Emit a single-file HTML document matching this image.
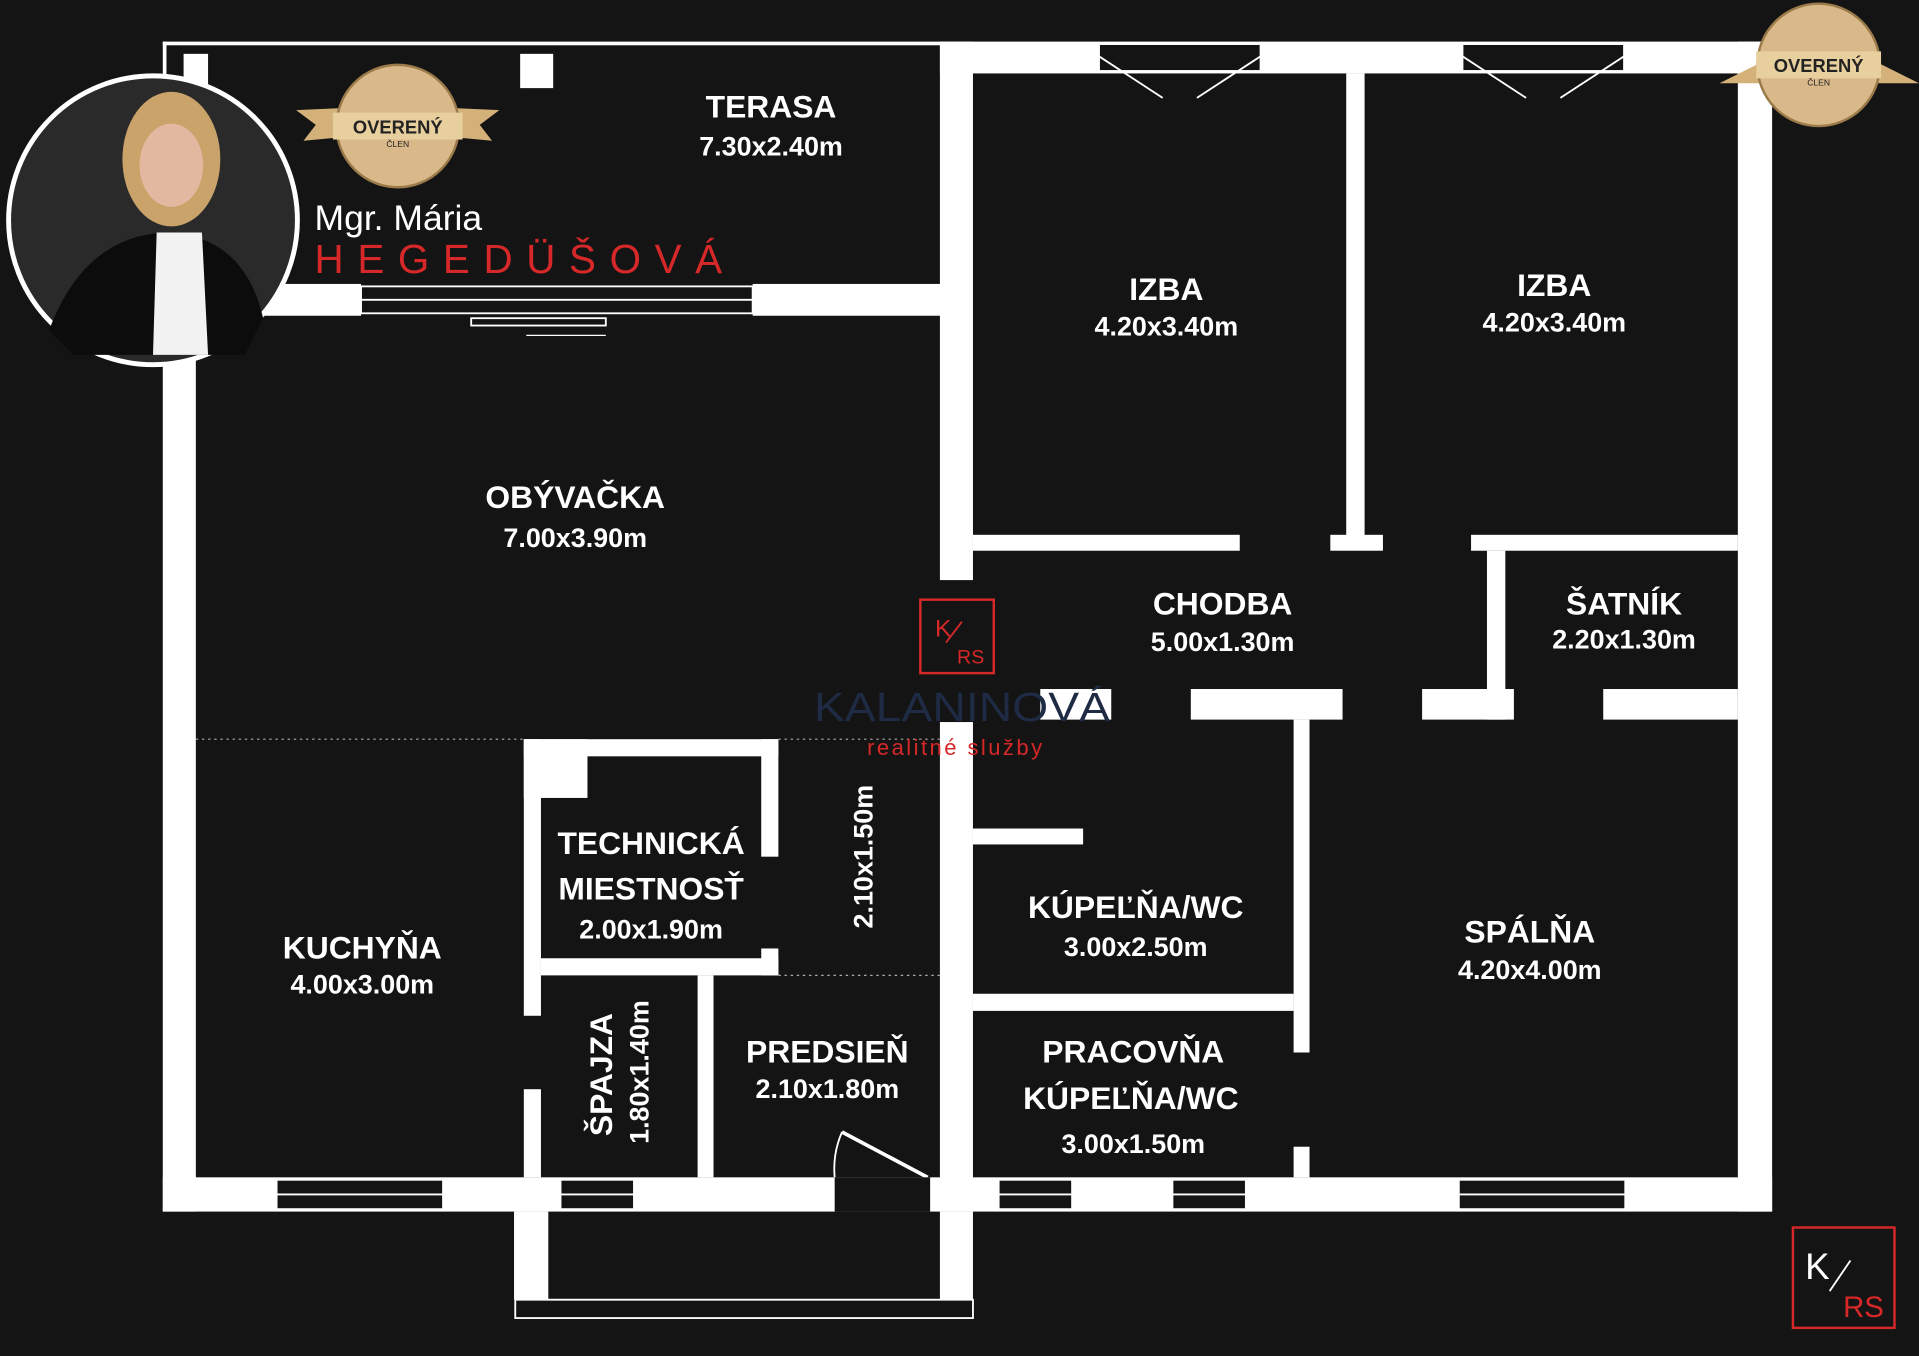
<!DOCTYPE html>
<html><head><meta charset="utf-8"><style>
html,body{margin:0;padding:0;background:#141414;overflow:hidden}
svg{display:block}
.t{font-family:"Liberation Sans Narrow","Liberation Sans",sans-serif;font-weight:bold;fill:#fff;text-anchor:middle}
</style></head><body>
<svg width="1919" height="1356" viewBox="0 0 1568 1108" xmlns="http://www.w3.org/2000/svg">
<rect width="1568" height="1108" fill="#141414"/>
<g fill="#fff">
<rect x="133" y="34" width="637" height="3"/>
<rect x="133" y="34" width="3" height="200"/>
<rect x="150" y="44" width="20" height="26"/>
<rect x="425" y="44" width="27" height="28"/>
<rect x="768" y="34" width="680" height="26"/>
<rect x="133" y="232" width="27" height="758"/>
<rect x="133" y="232" width="162" height="26"/>
<rect x="615" y="232" width="155" height="26"/>
<rect x="768" y="34" width="27" height="440"/>
<rect x="768" y="590" width="27" height="400"/>
<rect x="1420" y="34" width="28" height="956"/>
<rect x="133" y="962" width="1315" height="28"/>
<rect x="1100" y="60" width="15" height="380"/>
<rect x="795" y="437" width="218" height="13"/>
<rect x="1087" y="437" width="43" height="13"/>
<rect x="1202" y="437" width="218" height="13"/>
<rect x="1215" y="450" width="15" height="138"/>
<rect x="973" y="563" width="124" height="25"/>
<rect x="1162" y="563" width="75" height="25"/>
<rect x="1310" y="563" width="110" height="25"/>
<rect x="1057" y="588" width="13" height="272"/>
<rect x="1057" y="937" width="13" height="25"/>
<rect x="795" y="677" width="90" height="13"/>
<rect x="795" y="812" width="262" height="14"/>
<rect x="428" y="604" width="14" height="226"/>
<rect x="428" y="890" width="14" height="72"/>
<rect x="428" y="604" width="208" height="14"/>
<rect x="428" y="604" width="52" height="48"/>
<rect x="622" y="604" width="14" height="96"/>
<rect x="622" y="775" width="14" height="22"/>
<rect x="442" y="783" width="194" height="14"/>
<rect x="570" y="797" width="13" height="165"/>
<rect x="420" y="990" width="28" height="72"/>
<rect x="768" y="990" width="27" height="72"/>
</g>
<rect x="421" y="1062" width="374" height="15" fill="none" stroke="#fff" stroke-width="1.5"/>
<g stroke="#aaa" stroke-width="1" stroke-dasharray="2,3">
<line x1="160" y1="604" x2="428" y2="604"/><line x1="636" y1="604" x2="768" y2="604"/><line x1="636" y1="797" x2="768" y2="797"/>
</g>
<g fill="#141414" stroke="#fff" stroke-width="1.5">
<rect x="295" y="234" width="320" height="22"/>
<rect x="226" y="964" width="136" height="24"/>
<rect x="458" y="964" width="60" height="24"/>
<rect x="816" y="964" width="60" height="24"/>
<rect x="958" y="964" width="60" height="24"/>
<rect x="1192" y="964" width="136" height="24"/>
<rect x="898" y="36" width="132" height="22"/>
<rect x="1195" y="36" width="132" height="22"/>
<rect x="385" y="260" width="110" height="6"/>
</g>
<g stroke="#fff" stroke-width="1.5" fill="none">
<line x1="295" y1="245" x2="615" y2="245"/>
<line x1="226" y1="976" x2="362" y2="976"/><line x1="1192" y1="976" x2="1328" y2="976"/>
<line x1="458" y1="976" x2="518" y2="976"/><line x1="816" y1="976" x2="876" y2="976"/><line x1="958" y1="976" x2="1018" y2="976"/>
<path d="M898 46 L950 80 M1030 46 L978 80 M1195 46 L1247 80 M1327 46 L1275 80"/>
<line x1="430" y1="274" x2="495" y2="274" stroke-width="1"/>
<line x1="688" y1="925" x2="758" y2="962" stroke-width="3"/>
<path d="M688 925 A75 75 0 0 0 682 962" />
</g>
<rect x="682" y="962" width="78" height="28" fill="#141414"/>
<g class="t">
<text x="630" y="96" font-size="26">TERASA</text><text x="630" y="127" font-size="22">7.30x2.40m</text>
<text x="953" y="245" font-size="26">IZBA</text><text x="953" y="274" font-size="22">4.20x3.40m</text>
<text x="1270" y="242" font-size="26">IZBA</text><text x="1270" y="271" font-size="22">4.20x3.40m</text>
<text x="470" y="415" font-size="26">OBÝVAČKA</text><text x="470" y="447" font-size="22">7.00x3.90m</text>
<text x="999" y="502" font-size="26">CHODBA</text><text x="999" y="532" font-size="22">5.00x1.30m</text>
<text x="1327" y="502" font-size="26">ŠATNÍK</text><text x="1327" y="530" font-size="22">2.20x1.30m</text>
<text x="532" y="698" font-size="26">TECHNICKÁ</text><text x="532" y="735" font-size="26">MIESTNOSŤ</text><text x="532" y="767" font-size="22">2.00x1.90m</text>
<text x="928" y="750" font-size="26">KÚPEĽŇA/WC</text><text x="928" y="781" font-size="22">3.00x2.50m</text>
<text x="1250" y="770" font-size="26">SPÁLŇA</text><text x="1250" y="800" font-size="22">4.20x4.00m</text>
<text x="296" y="783" font-size="26">KUCHYŇA</text><text x="296" y="812" font-size="22">4.00x3.00m</text>
<text x="676" y="868" font-size="26">PREDSIEŇ</text><text x="676" y="897" font-size="22">2.10x1.80m</text>
<text x="926" y="868" font-size="26">PRACOVŇA</text><text x="924" y="906" font-size="26">KÚPEĽŇA/WC</text><text x="926" y="942" font-size="22">3.00x1.50m</text>
<text transform="translate(713,700) rotate(-90)" font-size="22">2.10x1.50m</text>
<text transform="translate(500,878) rotate(-90)" font-size="26">ŠPAJZA</text>
<text transform="translate(530,876) rotate(-90)" font-size="22">1.80x1.40m</text>
</g>
<rect x="752" y="490" width="60" height="60" fill="none" stroke="#d62828" stroke-width="2"/>
<text x="764" y="520" font-family="Liberation Sans" font-size="20" fill="#d62828">K</text>
<line x1="773" y1="525" x2="786" y2="508" stroke="#d62828" stroke-width="1.5"/>
<text x="782" y="542" font-family="Liberation Sans" font-size="16" fill="#d62828">RS</text>
<rect x="850" y="563" width="58" height="25" fill="#fff"/>
<text x="786" y="589" font-family="Liberation Sans" font-size="33" fill="#1f2a44" text-anchor="middle" textLength="242" lengthAdjust="spacingAndGlyphs">KALANINOVÁ</text>
<text x="781" y="617" font-family="Liberation Sans" font-size="18" fill="#d62828" text-anchor="middle" letter-spacing="2">realitné služby</text>
<rect x="1465" y="1003" width="83" height="82" fill="none" stroke="#d62828" stroke-width="2"/>
<text x="1475" y="1045" font-family="Liberation Sans" font-size="30" fill="#fff">K</text>
<line x1="1495" y1="1055" x2="1512" y2="1030" stroke="#fff" stroke-width="1.5"/>
<text x="1506" y="1076" font-family="Liberation Sans" font-size="24" fill="#d62828">RS</text>
<circle cx="125" cy="180" r="118" fill="#2a2a2a" stroke="#fff" stroke-width="4"/>
<ellipse cx="140" cy="130" rx="40" ry="55" fill="#c9a36a"/>
<ellipse cx="140" cy="135" rx="26" ry="34" fill="#e2b9a0"/>
<path d="M40 270 Q70 190 140 190 Q200 195 215 260 L200 290 L60 290 Z" fill="#0c0c0c"/>
<path d="M128 190 L165 190 L170 290 L125 290 Z" fill="#f2f2f2"/>
<g>
<path d="M242 90 L285 88 L280 112 L248 115 L258 102 Z" fill="#d4b178"/>
<path d="M408 90 L365 88 L370 112 L402 115 L392 102 Z" fill="#d4b178"/>
<circle cx="325" cy="103" r="50" fill="#d9b98a" stroke="#9c7b4a" stroke-width="2"/>
<rect x="272" y="92" width="106" height="22" fill="#e8cf9e"/>
<text x="325" y="109" font-family="Liberation Sans" font-weight="bold" font-size="15" fill="#222" text-anchor="middle">OVERENÝ</text>
<text x="325" y="120" font-family="Liberation Sans" font-size="7" fill="#222" text-anchor="middle">ČLEN</text>
</g>
<g>
<path d="M1405 68 L1445 48 L1445 68 Z" fill="#d4b178"/>
<path d="M1568 68 L1528 48 L1528 68 Z" fill="#d4b178"/>
<circle cx="1486" cy="53" r="50" fill="#d9b98a" stroke="#9c7b4a" stroke-width="2"/>
<rect x="1435" y="42" width="102" height="22" fill="#e8cf9e"/>
<text x="1486" y="59" font-family="Liberation Sans" font-weight="bold" font-size="15" fill="#222" text-anchor="middle">OVERENÝ</text>
<text x="1486" y="70" font-family="Liberation Sans" font-size="7" fill="#222" text-anchor="middle">ČLEN</text>
</g>
<text x="257" y="188" font-family="Liberation Sans" font-size="29" fill="#fff">Mgr. Mária</text>
<text x="257" y="223" font-family="Liberation Sans" font-size="33" fill="#d62828" textLength="333" lengthAdjust="spacing">HEGEDÜŠOVÁ</text>
</svg>
</body></html>
